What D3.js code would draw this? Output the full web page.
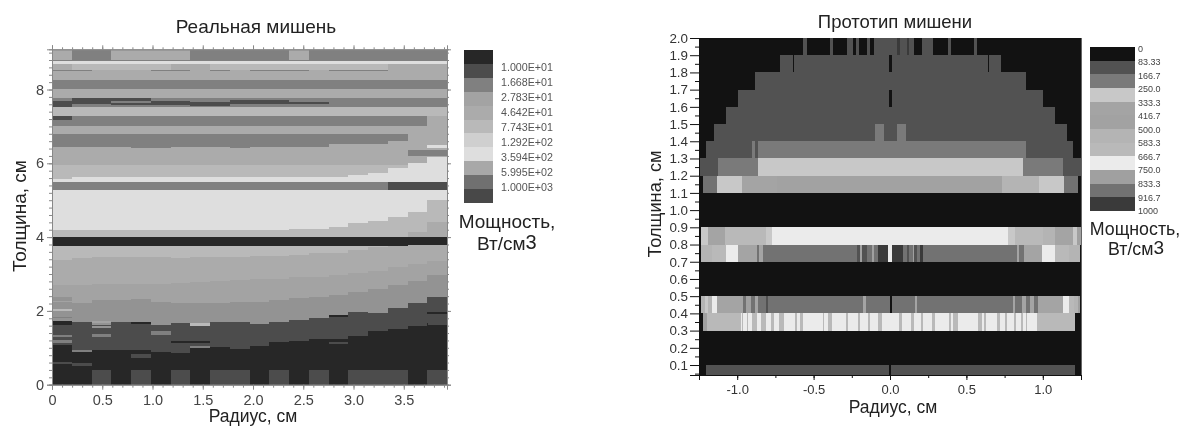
<!DOCTYPE html>
<html><head><meta charset="utf-8">
<script src="https://cdn.jsdelivr.net/npm/d3@7"></script>
<style>
html,body{margin:0;background:#fff}
svg{display:block;filter:blur(0.6px)}
rect{shape-rendering:crispEdges}
text{font-family:"Liberation Sans",Arial,sans-serif}
</style></head><body><svg id="c" width="1184" height="426"></svg>
<script>
// ---------- left chart data: "Реальная мишень"
const leftRadiusEdges=[0,0.197,0.393,0.59,0.786,0.983,1.179,1.376,1.572,1.769,1.965,2.162,2.358,2.555,2.751,2.948,3.144,3.341,3.537,3.734,3.93];
const leftXTicks=[0,0.5,1.0,1.5,2.0,2.5,3.0,3.5];
const leftXLabels=["0","0.5","1.0","1.5","2.0","2.5","3.0","3.5"];
const leftYTicks=[0,2,4,6,8];
const leftLegendLevels=[8,13,22,36,60,100,240,470,770,1000,1100];
const leftLegendLabels=["1.000E+01","1.668E+01","2.783E+01","4.642E+01","7.743E+01","1.292E+02","3.594E+02","5.995E+02","1.000E+03"];
// band tops (thickness, cm) per radial column, or one value for a flat band
const topAA=[6.43,6.43,6.43,6.45,6.42,6.42,6.43,6.44,6.43,6.42,6.44,6.43,6.43,6.43,6.52,6.52,6.52,6.60,6.79,6.79];
const topE0=[5.58,5.63,5.63,5.63,5.63,5.63,5.63,5.63,5.63,5.63,5.63,5.63,5.63,5.63,5.64,5.68,5.75,5.87,6.01,6.17];
const topC0=[4.19,4.19,4.19,4.19,4.19,4.19,4.19,4.19,4.19,4.19,4.19,4.19,4.22,4.22,4.28,4.38,4.44,4.54,4.68,5.00];
const topA8=[3.99,3.99,3.99,3.99,3.99,3.99,3.99,3.99,3.99,3.99,3.99,3.99,3.99,3.99,3.99,3.99,3.99,3.99,4.14,4.41];
const topB=[3.39,3.43,3.45,3.46,3.46,3.45,3.43,3.46,3.46,3.47,3.49,3.50,3.51,3.56,3.58,3.65,3.72,3.76,3.78,3.78];
const topM=[2.70,2.70,2.72,2.72,2.72,2.74,2.76,2.78,2.80,2.84,2.86,2.86,2.92,2.93,2.97,3.03,3.09,3.20,3.27,3.36];
const topC=[2.38,2.21,2.30,2.30,2.32,2.24,2.21,2.21,2.21,2.24,2.25,2.30,2.34,2.38,2.43,2.52,2.59,2.70,2.82,2.97];
const topD=[1.62,1.67,1.62,1.70,1.64,1.62,1.67,1.62,1.70,1.70,1.64,1.71,1.75,1.80,1.86,1.98,1.95,2.07,2.21,2.38];
const topF=[1.08,0.89,0.94,0.94,0.94,0.89,0.86,0.99,1.02,0.97,1.05,1.17,1.18,1.24,1.30,1.32,1.46,1.50,1.66,1.62];
const leftBands=[
 [[9.07],60],[[8.80],22],[[8.77],470],[[8.69],100],[[8.53],60],[[8.47],60],[[8.26],22],[[8.01],60],
 [[7.77],22],[[7.53],100],[[7.28],22],[[7.01],60],[[6.79],22],[topAA,60],[[5.95],100],[topE0,470],
 [[5.49],22],[[5.28],470],[topC0,100],[topA8,60],[[3.99],8],[[3.77],100],[topB,60],[topM,36],[topC,29],[topD,13],[topF,8]
];
// local details: [first column, end column, low cm, high cm, level]
const leftPatches=[
 [1,3,8.80,9.07,22],[7,12,8.80,9.07,22],[13,20,8.80,9.07,22],
 [0,2,8.49,8.53,22],[5,7,8.49,8.53,22],[8,9,8.49,8.53,22],[10,13,8.49,8.53,22],[14,17,8.49,8.53,22],
 [0,1,8.53,8.69,60],[6,8,8.53,8.69,60],[17,20,8.40,8.69,60],
 [0,1,7.53,7.70,13],[1,3,7.60,7.77,13],[3,5,7.70,7.77,13],[3,5,7.58,7.63,13],[5,7,7.58,7.70,13],[7,9,7.55,7.66,13],[9,12,7.60,7.72,13],[12,14,7.61,7.66,13],
 [0,1,7.17,7.28,13],[19,20,7.01,7.28,60],[18,20,6.19,6.36,22],[19,20,6.41,6.49,470],[17,20,5.28,5.49,13],
 [0,1,2.24,2.28,36],[0,1,2.01,2.05,100],[0,1,1.80,1.84,22],[1,3,1.55,1.60,29],[1,2,1.52,1.70,13],[2,3,1.68,1.72,36],[1,2,3.51,3.55,100],
 [0,1,1.62,1.72,8],[0,1,1.28,1.34,22],[0,1,1.14,1.22,22],[1,2,0.88,0.93,22],[2,3,1.30,1.38,22],[4,5,1.64,1.70,8],[5,6,1.35,1.45,22],[7,8,1.60,1.66,100],[7,8,1.13,1.18,8],[7,8,1.00,1.05,22],
 [6,7,1.12,1.18,8],[4,5,0.72,0.84,13],[1,2,0.52,0.60,13],[0,1,0.55,0.62,13],
 [14,15,1.83,1.90,8],[14,15,1.25,1.30,13],[14,15,1.10,1.15,13],[16,17,1.32,1.40,8],[19,20,1.92,1.96,8],[18,19,1.58,1.68,13],
 [2,3,0,0.39,13],[4,5,0,0.39,13],[6,7,0,0.39,13],[8,10,0,0.39,13],[11,12,0,0.39,13],[13,14,0,0.39,13],[15,18,0,0.39,13],[19,20,0,0.39,13]
];
// ---------- right chart data: "Прототип мишени"
const protoXTicks=[-1,-0.5,0,0.5,1];
const protoLegendLabels=["0","83.33","166.7","250.0","333.3","416.7","500.0","583.3","666.7","750.0","833.3","916.7","1000"];
const protoLevels=[40,125,208,291,375,458,541,625,708,791,875,958];
// rows: [low cm, high cm, segments [from cm, to cm, level]]
const row004=[[-1.205,-0.004,125],[-0.004,0.004,40],[0.004,1.21,125]];
const row03base=[[-1.2,-0.978,625],[-0.978,0.976,708],[0.976,1.212,625],[-1.222,-1.2,791]];
const row03stripes=[[-.971,-.961],[-.939,-.928],[-.906,-.873],[-.845,-.812],[-.782,-.760],[-.725,-.694],[-.622,-.611],[-.589,-.572],[-.441,-.432],[-.404,-.382],[-.288,-.273],[-.207,-.197],[-.142,-.131],[-.077,-.055],[.061,.076],[.135,.157],[.201,.214],[.273,.295],[.389,.397],[.415,.447],[.578,.600],[.616,.629],[.699,.720],[.753,.764],[.812,.825],[.856,.869],[.891,.899],[.960,.976]];
const row04=[[-1.24,-1.21,541],[-1.21,-1.19,291],[-1.19,-1.166,541],[-1.166,-1.135,708],[-1.135,-.965,375],[-.965,-.945,875],[-.945,-.912,791],[-.912,-.884,875],[-.884,-.862,375],[-.862,-.812,875],[-.812,-.797,125],[-.797,-.175,875],[-.175,-.157,375],[-.157,0,875],[0,.011,40],[.011,.164,875],[.164,.175,375],[.175,.803,875],[.803,.819,375],[.819,.862,875],[.862,.891,375],[.891,.917,875],[.917,.945,375],[.945,.967,875],[.967,1.135,375],[1.135,1.172,708],[1.172,1.205,625],[1.205,1.233,541],[1.233,1.244,791]];
const row07=[[-1.237,-1.168,541],[-1.168,-1.074,625],[-1.074,-.993,708],[-.993,-.873,375],[-.873,-.856,875],[-.856,-.83,375],[-.83,-.214,875],[-.214,-.197,125],[-.197,-.181,791],[-.181,-.153,125],[-.153,-.12,875],[-.12,-.105,791],[-.105,-.076,875],[-.076,-.011,958],[-.011,.011,708],[.011,.083,958],[.083,.114,875],[.114,.127,125],[.127,.148,875],[.148,.157,791],[.157,.179,125],[.179,.196,875],[.196,.214,958],[.214,.83,875],[.83,.847,375],[.847,.878,875],[.878,.998,375],[.998,1.08,708],[1.08,1.172,625],[1.172,1.244,541]];
const row08=[[-1.237,-1.222,291],[-1.222,-1.19,291],[-1.19,-1.08,375],[-1.08,-.993,625],[-.993,-.814,625],[-.814,-.775,291],[-.775,.775,708],[.775,.819,291],[.819,1.004,625],[1.004,1.08,541],[1.08,1.2,375],[1.2,1.227,291],[1.227,1.249,791]];
const row11=[[-1.227,-1.131,875],[-1.131,-.971,291],[-.971,-.742,375],[-.742,.731,458],[.731,.978,541],[.978,1.14,291],[1.14,1.233,875]];
const row12=[[-1.25,-1.124,125],[-1.124,-.862,208],[-.862,.869,291],[.869,1.13,208],[1.13,1.25,125]];
const row13=[[-1.205,-.906,125],[-.906,-.884,208],[-.884,-.862,125],[-.862,.869,208],[.869,.893,208],[.893,1.2,125]];
const row14=[[-1.152,-.098,125],[-.098,-.039,208],[-.039,.044,125],[.044,.103,208],[.103,1.157,125]];
const row15=[[-1.074,1.08,125]];
const row16=[[-.993,-.004,125],[-.004,.012,40],[.012,.999,125]];
const row17=[[-.895,-.885,40],[-.885,.89,125],[.89,.906,40]];
const row18=[[-.72,-.637,125],[-.637,-.626,40],[-.626,-.004,125],[-.004,.012,40],[.012,.64,125],[.64,.65,40],[.65,.727,125]];
const row19=[[-.568,-.546,125],[-.393,-.376,125],[-.284,-.24,125],[-.225,-.201,125],[-.149,-.131,125],[-.105,.048,125],[.048,.065,958],[.065,.109,125],[.109,.127,958],[.127,.157,125],[.207,.229,125],[.229,.262,125],[.262,.284,125],[.382,.397,125],[.552,.567,125]];
const protoRows=[[0.04,0.1,row004],[0.3,0.4,row03base],[0.4,0.5,row04],[0.7,0.8,row07],[0.8,0.9,row08],[1.1,1.2,row11],[1.2,1.3,row12],[1.3,1.4,row13],[1.4,1.5,row14],[1.5,1.6,row15],[1.6,1.7,row16],[1.7,1.8,row17],[1.8,1.9,row18],[1.9,2.0,row19]];

// ---------- drawing
const svg=d3.select("#c");
const range=(a,b,s)=>d3.range(a,b+s/2,s).map(v=>+v.toFixed(3));
const leftColor=d3.scaleOrdinal([8,13,22,29,36,60,100,240,470,770,1000,1100],
 ["#272727","#4c4c4c","#808080","#939393","#a3a3a3","#ababab","#b9b9b9","#cfcfcf","#dedede","#a8a8a8","#707070","#484848"]);
const protoGrey=["#121212","#525252","#7a7a7a","#c8c8c8","#a4a4a4","#a2a2a2","#b4b4b4","#b9b9b9","#ebebeb","#a0a0a0","#727272","#3a3a3a"];
const protoColor=d3.scaleOrdinal(protoLevels,protoGrey);

// left plot
const lx=d3.scaleLinear([0,3.93],[52,447]);
const ly=d3.scaleLinear([0,9.09],[384.7,49.3]);
const L=svg.append("g");
leftBands.forEach(([top,level])=>{
  if(top.length===1){
    L.append("rect").attr("x",lx(0)).attr("width",lx(3.93)-lx(0)).attr("y",ly(top[0])).attr("height",ly(0)-ly(top[0])).attr("fill",leftColor(level));
  }else{
    L.append("g").selectAll("rect").data(top).join("rect")
     .attr("x",(d,i)=>lx(leftRadiusEdges[i])).attr("width",(d,i)=>lx(leftRadiusEdges[i+1])-lx(leftRadiusEdges[i])+.3)
     .attr("y",d=>ly(d)).attr("height",d=>ly(0)-ly(d)).attr("fill",leftColor(level));
  }
});
L.append("g").selectAll("rect").data(leftPatches).join("rect")
 .attr("x",d=>lx(leftRadiusEdges[d[0]])).attr("width",d=>lx(leftRadiusEdges[d[1]])-lx(leftRadiusEdges[d[0]]))
 .attr("y",d=>ly(d[3])).attr("height",d=>ly(d[2])-ly(d[3])).attr("fill",d=>leftColor(d[4]));
function styleAxis(g,col,fs,tc){
  g.select(".domain").attr("stroke",col);
  g.selectAll(".tick line").attr("stroke",col);
  g.selectAll("text").attr("fill",tc).attr("font-size",fs).attr("font-family",'"Liberation Sans"');
}
const ac="#888";
const axisG=(tf)=>L.append("g").attr("transform",tf);
axisG("translate(0,384.7)").call(d3.axisBottom(lx).tickValues(range(0,3.9,0.1)).tickSize(3).tickFormat("")).call(g=>styleAxis(g,ac,12,"#444"));
axisG("translate(0,384.7)").call(d3.axisBottom(lx).tickValues(leftXTicks).tickSize(5).tickPadding(5).tickFormat((d,i)=>leftXLabels[i])).call(g=>styleAxis(g,ac,14.5,"#444"));
axisG("translate(0,49.3)").call(d3.axisTop(lx).tickValues(range(0,3.9,0.1)).tickSize(2).tickFormat("")).call(g=>styleAxis(g,ac,12,"#444"));
axisG("translate(0,49.3)").call(d3.axisTop(lx).tickValues(leftXTicks).tickSize(4).tickFormat("")).call(g=>styleAxis(g,ac,12,"#444"));
axisG("translate(52,0)").call(d3.axisLeft(ly).tickValues(range(0,9,0.2)).tickSize(3).tickFormat("")).call(g=>styleAxis(g,ac,12,"#444"));
axisG("translate(52,0)").call(d3.axisLeft(ly).tickValues(leftYTicks).tickSize(5).tickPadding(3).tickFormat(d3.format("d"))).call(g=>styleAxis(g,ac,14.5,"#444"));
axisG("translate(447,0)").call(d3.axisRight(ly).tickValues(range(0,9,0.2)).tickSize(2).tickFormat("")).call(g=>styleAxis(g,ac,12,"#444"));
axisG("translate(447,0)").call(d3.axisRight(ly).tickValues(leftYTicks).tickSize(4).tickFormat("")).call(g=>styleAxis(g,ac,12,"#444"));
const label=(x,y,t,fs,rot,fill)=>svg.append("text").attr("x",x).attr("y",y).attr("text-anchor","middle").attr("font-size",fs).attr("fill",fill||"#222")
  .attr("transform",rot?`rotate(-90 ${x} ${y})`:null).text(t);
label(256,33,"Реальная мишень",19);
label(253,422,"Радиус, см",17.5);
label(26,216,"Толщина, см",19,true);
// left legend
const lLegY=d3.scaleBand(d3.range(leftLegendLevels.length),[50,203]);
svg.append("g").selectAll("rect").data(leftLegendLevels).join("rect")
 .attr("x",464).attr("width",28.5).attr("y",(d,i)=>lLegY(i)).attr("height",lLegY.bandwidth()+.3).attr("fill",d=>leftColor(d));
svg.append("g").selectAll("text").data(leftLegendLabels).join("text")
 .attr("x",501).attr("y",(d,i)=>70.5+i*15).attr("font-size",10.7).attr("fill","#555").text(d=>d);
label(507,228,"Мощность,",19);
svg.append("text").attr("x",477).attr("y",250).attr("font-size",19).attr("fill","#222").text("Вт/см")
  .append("tspan").attr("font-size",20).attr("dy",-1).text("3");

// right plot
const px=d3.scaleLinear([-1.25,1.25],[699,1081]);
const py=d3.scaleLinear([0.042,2.0],[375,38]);
const R=svg.append("g");
R.append("rect").attr("x",px(-1.25)).attr("y",py(2)).attr("width",px(1.25)-px(-1.25)).attr("height",py(0.042)-py(2)).attr("fill",protoColor(40));
protoRows.forEach(([lo,hi,segs])=>{
  R.append("g").selectAll("rect").data(segs).join("rect")
   .attr("x",d=>px(d[0])).attr("width",d=>px(d[1])-px(d[0]))
   .attr("y",py(hi)).attr("height",py(lo)-py(hi)).attr("fill",d=>protoColor(d[2]));
});
R.append("g").selectAll("rect").data(row03stripes).join("rect")
 .attr("x",d=>px(d[0])).attr("width",d=>px(d[1])-px(d[0]))
 .attr("y",py(0.4)).attr("height",py(0.3)-py(0.4)).attr("fill",protoColor(625));
const hy=d=>d3.format(".1f")(d).replace("−","-");
R.append("g").attr("transform","translate(699,0)").call(d3.axisLeft(py).tickValues(range(0.05,1.95,0.1)).tickSize(4).tickFormat("")).call(g=>styleAxis(g,"#111",12,"#333"));
R.append("g").attr("transform","translate(699,0)").call(d3.axisLeft(py).tickValues(range(0.1,2,0.1)).tickSize(9).tickPadding(2).tickFormat(hy)).call(g=>styleAxis(g,"#111",13.4,"#333"));
R.append("g").attr("transform","translate(0,375)").call(d3.axisBottom(px).tickValues(range(-1.25,1.25,0.25)).tickSize(3).tickFormat("")).call(g=>styleAxis(g,"#111",12,"#333"));
R.append("g").attr("transform","translate(0,375)").call(d3.axisBottom(px).tickValues(protoXTicks).tickSize(5).tickPadding(5).tickFormat(hy)).call(g=>styleAxis(g,"#111",13,"#333"));
R.append("line").attr("x1",1081.5).attr("x2",1081.5).attr("y1",38).attr("y2",375).attr("stroke","#666");
label(895,28,"Прототип мишени",18.5);
label(893,413,"Радиус, см",17.5);
label(661,204,"Толщина, см",18.2,true);
// right legend
const pLegY=d3.scaleBand(d3.range(protoLevels.length),[47,211]);
svg.append("g").selectAll("rect").data(protoLevels).join("rect")
 .attr("x",1090).attr("width",45).attr("y",(d,i)=>pLegY(i)).attr("height",pLegY.bandwidth()+.3).attr("fill",d=>protoColor(d));
svg.append("g").selectAll("text").data(protoLegendLabels).join("text")
 .attr("x",1138).attr("y",(d,i)=>51.5+i*13.55).attr("font-size",9).attr("fill","#444").text(d=>d);
label(1135,235,"Мощность,",17.8);
svg.append("text").attr("x",1108).attr("y",255).attr("font-size",17.8).attr("fill","#222").text("Вт/см")
  .append("tspan").attr("font-size",19).attr("dy",-1).text("3");
</script></body></html>
